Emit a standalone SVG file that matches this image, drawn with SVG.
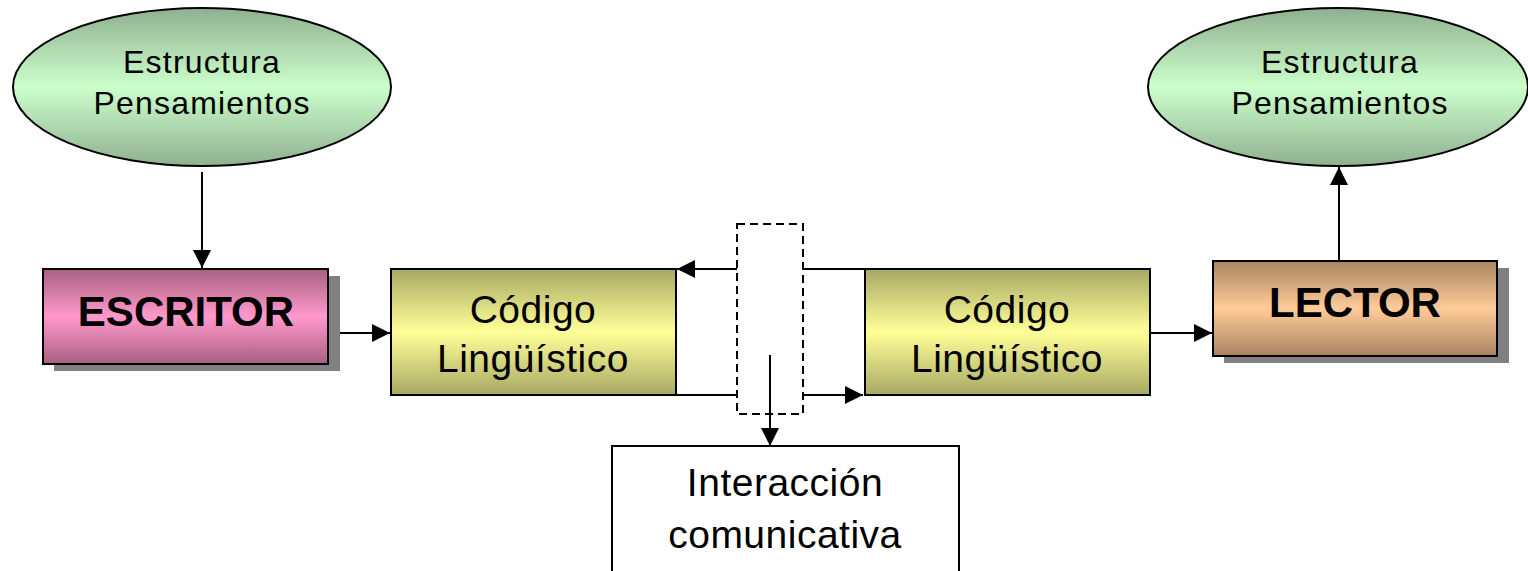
<svg xmlns="http://www.w3.org/2000/svg" width="1528" height="571" viewBox="0 0 1528 571">
<defs>
<linearGradient id="gGreen" x1="0" y1="0" x2="0" y2="1">
<stop offset="0" stop-color="#8fb08f"/><stop offset="0.5" stop-color="#ccffcc"/><stop offset="1" stop-color="#8fb08f"/>
</linearGradient>
<linearGradient id="gPink" x1="0" y1="0" x2="0" y2="1">
<stop offset="0" stop-color="#a8607f"/><stop offset="0.5" stop-color="#ff99cc"/><stop offset="1" stop-color="#a8607f"/>
</linearGradient>
<linearGradient id="gYel" x1="0" y1="0" x2="0" y2="1">
<stop offset="0" stop-color="#a8a864"/><stop offset="0.5" stop-color="#ffff99"/><stop offset="1" stop-color="#a8a864"/>
</linearGradient>
<linearGradient id="gOr" x1="0" y1="0" x2="0" y2="1">
<stop offset="0" stop-color="#a88462"/><stop offset="0.5" stop-color="#ffcc99"/><stop offset="1" stop-color="#a88462"/>
</linearGradient>
<marker id="arr" viewBox="0 0 10 10" refX="10" refY="5" markerWidth="18" markerHeight="18" markerUnits="userSpaceOnUse" orient="auto">
<path d="M0,0 L10,5 L0,10 z" fill="#000"/>
</marker>
</defs>
<style>
.t{font-family:"Liberation Sans",Arial,sans-serif;fill:#000;text-anchor:middle}
.reg{font-size:32px;letter-spacing:1.2px}
.big{font-size:39px;letter-spacing:0.5px}
.bold{font-size:42px;font-weight:bold}
.shape{stroke:#000;stroke-width:2}
.shadow{fill:#808080}
.conn{stroke:#000;stroke-width:2;fill:none}
</style>
<g id="connectors">
<line class="conn" x1="202" y1="172" x2="202" y2="268" marker-end="url(#arr)"/>
<line class="conn" x1="328" y1="333" x2="390" y2="333" marker-end="url(#arr)"/>
<polyline class="conn" points="864,269 803,269"/>
<line class="conn" x1="737" y1="269" x2="677" y2="269" marker-end="url(#arr)"/>
<line class="conn" x1="676" y1="395" x2="737" y2="395"/>
<line class="conn" x1="803" y1="395" x2="863" y2="395" marker-end="url(#arr)"/>
<line class="conn" x1="770" y1="355" x2="770" y2="446" marker-end="url(#arr)"/>
<line class="conn" x1="1150" y1="333" x2="1212" y2="333" marker-end="url(#arr)"/>
<line class="conn" x1="1339" y1="261" x2="1339" y2="167" marker-end="url(#arr)"/>
</g>
<g id="dashed">
<rect x="737" y="224" width="66" height="190" fill="none" stroke="#000" stroke-width="2" stroke-dasharray="8,5"/>
</g>
<g id="estructura-left">
<ellipse class="shape" cx="202" cy="87" rx="189" ry="79" fill="url(#gGreen)"/>
<text class="t reg" x="202" y="73">Estructura</text>
<text class="t reg" x="202" y="114">Pensamientos</text>
</g>
<g id="escritor">
<rect class="shadow" x="54" y="276" width="286" height="95"/>
<rect class="shape" x="43" y="269" width="285" height="95" fill="url(#gPink)"/>
<text class="t bold" x="186" y="326">ESCRITOR</text>
</g>
<g id="codigo-left">
<rect class="shape" x="391" y="269" width="285" height="126" fill="url(#gYel)"/>
<text class="t big" x="533" y="323">Código</text>
<text class="t big" x="533" y="372">Lingüístico</text>
</g>
<g id="codigo-right">
<rect class="shape" x="865" y="269" width="285" height="126" fill="url(#gYel)"/>
<text class="t big" x="1007" y="323">Código</text>
<text class="t big" x="1007" y="372">Lingüístico</text>
</g>
<g id="interaccion">
<rect class="shape" x="612" y="446" width="347" height="140" fill="#fff"/>
<text class="t big" x="785" y="496">Interacción</text>
<text class="t big" x="785" y="548">comunicativa</text>
</g>
<g id="lector">
<rect class="shadow" x="1224" y="268" width="285" height="95"/>
<rect class="shape" x="1213" y="261" width="284" height="95" fill="url(#gOr)"/>
<text class="t bold" x="1355" y="317">LECTOR</text>
</g>
<g id="estructura-right">
<ellipse class="shape" cx="1338" cy="87" rx="190" ry="79" fill="url(#gGreen)"/>
<text class="t reg" x="1340" y="73">Estructura</text>
<text class="t reg" x="1340" y="114">Pensamientos</text>
</g>
</svg>
